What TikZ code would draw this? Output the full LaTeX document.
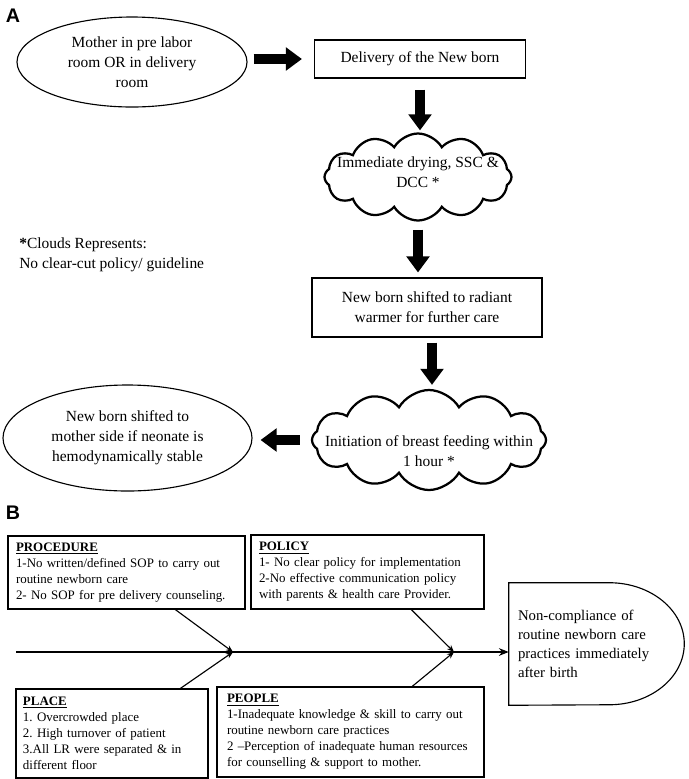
\documentclass[tikz,border=0pt]{standalone}
\usepackage{fontspec}
\setmainfont{Liberation Serif}
\newfontfamily\panelfont{Liberation Sans}
\usepackage{tikz}
\usetikzlibrary{positioning,shapes,shapes.symbols,arrows.meta,calc}
\newcommand{\pxl}{0.025cm}
\newcommand{\cloudtext}[2][0pt]{\makebox[0pt]{\smash{\raisebox{#1}{\begin{tabular}{@{}c@{}}#2\end{tabular}}}}}
\tikzstyle{oval}=[%
      ellipse, draw=black, thick, inner sep=0pt, align=center,
      font=\fontsize{11}{14.2}\selectfont
]
\tikzstyle{box}=[%
      rectangle, draw=black, thick, inner sep=0pt, align=center,
      font=\fontsize{11}{14.2}\selectfont
]
\tikzstyle{puff}=[%
      cloud, cloud puffs=12, cloud puff arc=120, cloud ignores aspect,
      draw=black, line width=1.6pt, inner sep=0pt,
      font=\fontsize{11}{14.2}\selectfont
]
\tikzstyle{cause}=[%
      rectangle, draw=black, thick, inner sep=0pt, align=left,
      font=\fontsize{9.2}{11.4}\selectfont\frenchspacing
]
\tikzstyle{fat}=[%
      line width=0.26cm, -{Triangle[length=0.4cm,width=0.56cm]}
]
\tikzstyle{bone}=[%
      thick, -{Stealth[length=5pt,width=4pt]}
]

\begin{document}
\begin{tikzpicture}[x=0.025cm, y=-0.025cm]
    \useasboundingbox (0,0) rectangle (689,779);

    % panel A
    \node[font=\panelfont\bfseries\fontsize{14}{16}\selectfont] (la) at (13,16) {A};
    \node[oval, minimum width=230*\pxl, minimum height=90*\pxl] (mom) at (132,62)
        {Mother in pre labor\\room OR in delivery\\room};
    \node[box, minimum width=211*\pxl, minimum height=38*\pxl] (deliv) at (420,59)
        {Delivery of the New born};
    \node[puff, minimum width=187*\pxl, minimum height=87*\pxl] (dry) at (418,177)
        {\cloudtext{Immediate drying, SSC \&\\DCC *}};
    \node[box, minimum width=230*\pxl, minimum height=59*\pxl] (warm) at (427,307.5)
        {New born shifted to radiant\\warmer for further care};
    \node[puff, minimum width=234*\pxl, minimum height=100*\pxl] (feed) at (429,440)
        {\cloudtext[-11.5pt]{Initiation of breast feeding within\\1 hour *}};
    \node[oval, minimum width=249*\pxl, minimum height=106*\pxl] (side) at (127.5,438)
        {New born shifted to\\mother side if neonate is\\hemodynamically stable};
    \node[align=left, anchor=west, inner sep=0pt, font=\fontsize{11}{14.2}\selectfont] (note) at (19,255)
        {\textbf{*}Clouds Represents:\\No clear-cut policy/ guideline};

    \path (mom.east |- deliv.west) edge[fat, shorten <=0.15cm, shorten >=0.3cm] (deliv.west)
          (deliv.south) edge[fat, shorten <=0.275cm, shorten >=0.05cm] (deliv.south |- dry.north)
          (dry.south) edge[fat, shorten <=0.2cm, shorten >=0.125cm] (dry.south |- warm.north)
          ([xshift=0.125cm]warm.south) edge[fat, shorten <=0.125cm, shorten >=0.1cm] ([xshift=0.125cm]warm.south |- feed.north)
          (feed.west) edge[fat, shorten <=0.275cm, shorten >=0.2cm] (feed.west -| side.east)
    ;

    % panel B
    \node[font=\panelfont\bfseries\fontsize{14}{16}\selectfont] (lb) at (13,513) {B};
    \node[cause, minimum width=237*\pxl, minimum height=73*\pxl, text width=221*\pxl] (proc) at (126.5,572.5)
        {\underline{\textbf{PROCEDURE}}\\1-No written/defined SOP to carry out\\routine newborn care\\2- No SOP for pre delivery counseling.};
    \node[cause, minimum width=233*\pxl, minimum height=74*\pxl, text width=217*\pxl] (pol) at (367.5,572)
        {\underline{\textbf{POLICY}}\\1- No clear policy for implementation\\2-No effective communication policy\\with parents \& health care Provider.};
    \node[cause, minimum width=192*\pxl, minimum height=89*\pxl, text width=178*\pxl] (place) at (112,733.5)
        {\underline{\textbf{PLACE}}\\1. Overcrowded place\\2. High turnover of patient\\\makebox[\linewidth][s]{3.All LR were separated \& in}\\different floor};
    \node[cause, minimum width=267*\pxl, minimum height=90*\pxl, text width=247*\pxl] (ppl) at (350.5,732)
        {\underline{\textbf{PEOPLE}}\\1-Inadequate knowledge \& skill to carry out\\routine newborn care practices\\2 --Perception of inadequate human resources\\for counselling \& support to mother.};
    \node[align=left, inner sep=0pt, minimum width=175*\pxl, minimum height=122*\pxl, text width=157*\pxl,
          font=\fontsize{10.5}{13.5}\selectfont] (goal) at (596.5,644)
        {Non-compliance of\\routine newborn care\\practices immediately\\after birth};
    \draw[thick] (goal.north west) -- ([xshift=-1.875cm]goal.north east)
        arc[start angle=90, end angle=-90, x radius=1.875cm, y radius=1.525cm]
        -- (goal.south west) -- cycle;

    \coordinate (tail) at (16,652);
    \coordinate (j1) at (233,652);
    \coordinate (j2) at (454,652);
    \draw[thick, -{Stealth[length=7pt,width=5.5pt]}] (tail) -- (tail -| goal.west);

    \path ($(proc.south west)!0.705!(proc.south east)$) edge[bone] (j1)
          ($(place.north west)!0.854!(place.north east)$) edge[bone] (j1)
          ($(pol.south west)!0.687!(pol.south east)$) edge[bone] (j2)
          ($(ppl.north west)!0.73!(ppl.north east)$) edge[bone] (j2)
    ;
\end{tikzpicture}
\end{document}
